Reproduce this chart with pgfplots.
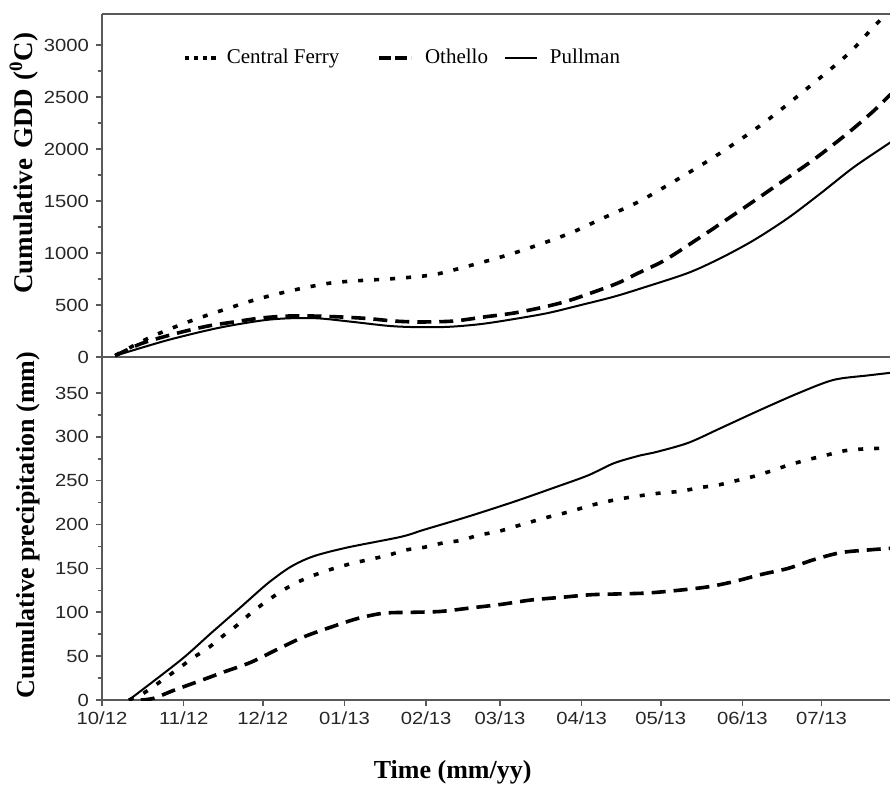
\documentclass[border=0pt]{standalone}
\usepackage{fontspec}
\setmainfont{Liberation Serif}
\newfontfamily\ticksans[FakeStretch=1.15]{Liberation Sans}
\usepackage{pgfplots}
\pgfplotsset{compat=1.18}

\pgfplotstableread{
x y
5 15
18.5 192
32.6 337
45.9 452
59.1 558
72.8 644
86.8 712
100.9 740
108.5 750
124.8 788
136.2 856
156.3 1000
176.8 1183
189.3 1327
203.3 1490
214.7 1654
232.2 1923
250 2231
266.4 2560
283.1 2915
292.9 3180
299 3330
}\gddcf
\pgfplotstableread{
x y
5 12
15 130
28.8 231
40.2 298
50 337
60.3 375
70.6 394
80.4 394
90.7 385
100.9 370
110.8 346
121 337
133.5 346
144.9 385
156.3 423
167.7 481
176.8 540
186.6 625
195.8 712
203.7 810
212 910
218.5 1010
232.2 1240
245.1 1461
257.6 1680
270.1 1900
283 2154
292.9 2370
299.3 2530
}\gddot
\pgfplotstableread{
x y
5 12
25 163
44 279
60.3 350
70.6 372
82 372
94.4 340
108.5 300
118.3 288
131.2 290
143.8 317
156.3 365
169.2 423
181.7 500
194.2 580
204.5 660
222.3 808
234.8 952
247.4 1125
260.3 1337
272.8 1577
285.3 1827
299.3 2067
}\gddpu
\pgfplotstableread{
x y
10.2 0
15.9 8
23.1 23
29.1 36
34.5 48
40.6 60
46.3 74
51.6 86
56.5 99
62.2 112
68.6 125
74.7 135
81.1 143
88 150
95.2 156
101.2 160
108.5 165
115.3 171
122.1 174
129.3 179
136.2 182
143 188
150.2 192
157 198
163.9 204
171.1 210
177.9 215
184.4 221
191.2 226
198 230
204.5 233
212.1 236
219.7 238
226.5 242
233.7 245
240.6 250
247.4 255
253.8 261
260.7 268
267.9 274
274.7 279
281.5 284
288 286
295.6 287
299.3 288
}\prcf
\pgfplotstableread{
x y
14.7 0
19.7 2
27.2 11
36.4 21
46.3 32
56.5 43
66.7 58
76.6 72
86.8 83
97.1 93
107 99
118.3 100
128.6 101
140 105
151.4 109
162.8 114
174.1 117
185.5 120
196.9 121
207.1 122
218.5 125
229.9 129
239.8 135
250 143
260.3 150
270.1 160
280.3 168
290.6 171
299.3 173
}\prot
\pgfplotstableread{
x y
10.2 0
29.9 45.6
41.3 76
52.7 106
62.9 133
71.7 152
80.4 164
93.3 174
113.4 186
122.1 194
138.8 209
156.3 226
171.5 242
184.4 256
194.3 270
204.5 279
209.4 282
222.3 293
234.8 310
250 331
265.2 351
277.7 365
290.6 370
299.3 373
}\prpu

\begin{document}
\begin{tikzpicture}
\useasboundingbox (-51pt,-42pt) rectangle (394pt,350pt);
\pgfplotsset{
  myaxis/.style={
    scale only axis, width=394pt, height=171.5pt,
    xmin=0, xmax=299,
    axis line style={black!65, line width=0.9pt},
    tick style={black!65, line width=0.8pt},
    tick align=outside,
    major tick length=3pt, minor tick length=2.2pt,
    tick label style={font=\ticksans\fontsize{8.8}{10}\selectfont, text=black!85},
    /pgf/number format/assume math mode=true,
    /pgf/number format/set thousands separator={},
    label style={font=\bfseries\fontsize{13}{15}\selectfont},
    axis y line*=left,
    minor y tick num=1,
    clip=true,
  },
  cf/.style={black, line width=1.8pt, dash pattern=on 2.5pt off 5.5pt, smooth},
  ot/.style={black, line width=1.8pt, dash pattern=on 7pt off 4pt, smooth},
  pu/.style={black, line width=1pt, smooth},
}
\begin{axis}[myaxis, at={(0,171.5pt)}, anchor=south west,
  axis x line*=box, xtick=\empty,
  ymin=0, ymax=3300, ytick={0,500,...,3000},
  ylabel={Cumulative\hspace{5pt}GDD\hspace{4pt}(\textsuperscript{0}C)},
  ylabel style={at={(axis description cs:-0.099,0.565)}, anchor=center, font=\bfseries\fontsize{13.5}{15}\selectfont},
  legend style={at={(axis description cs:0.095,0.872)}, anchor=west, draw=none, fill=none,
    legend columns=3, font=\fontsize{10.5}{12}\selectfont,
    /tikz/column 1/.style={column sep=2pt},
    /tikz/column 2/.style={column sep=17pt},
    /tikz/column 3/.style={column sep=4pt},
    /tikz/column 4/.style={column sep=6pt},
    /tikz/column 5/.style={column sep=4pt}},
  legend image code/.code={\draw[#1] (0pt,0pt) -- (16pt,0pt);},
]
\addlegendimage{black, line width=1.8pt, dash pattern=on 2.2pt off 2.2pt}
\addlegendentry{Central Ferry}
\addlegendimage{black, line width=1.8pt, dash pattern=on 6pt off 2pt}
\addlegendentry{Othello}
\addlegendimage{black, line width=1pt}
\addlegendentry{Pullman}
\addplot[cf, forget plot] table {\gddcf};
\addplot[ot, forget plot] table {\gddot};
\addplot[pu, forget plot] table {\gddpu};
\end{axis}
\begin{axis}[myaxis, at={(0,0)}, anchor=south west,
  axis x line*=bottom,
  ymin=0, ymax=391, ytick={0,50,...,350},
  xtick={0,31,61,92,123,151,182,212,243,273},
  xticklabels={10/12,11/12,12/12,01/13,02/13,03/13,04/13,05/13,06/13,07/13},
  xticklabel style={yshift=0.5pt},
  ylabel={Cumulative precipitation (mm)},
  ylabel style={at={(axis description cs:-0.094,0.51)}, anchor=center},
  xlabel={Time (mm/yy)},
  xlabel style={at={(axis description cs:0.445,-0.21)}, anchor=center},
]
\addplot[cf] table {\prcf};
\addplot[ot] table {\prot};
\addplot[pu] table {\prpu};
\end{axis}
\end{tikzpicture}
\end{document}
